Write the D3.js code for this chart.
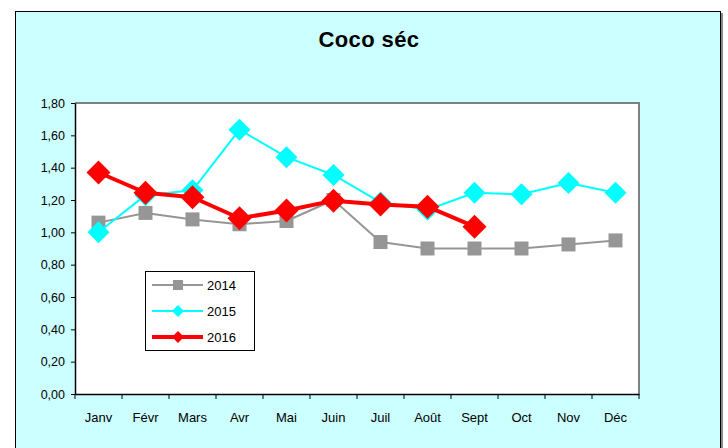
<!DOCTYPE html>
<html><head><meta charset="utf-8">
<script src="https://cdn.jsdelivr.net/npm/d3@7/dist/d3.min.js"></script>
<style>body{margin:0;background:#fff;}svg{display:block;font-family:"Liberation Sans",Arial,sans-serif;}</style>
</head><body><svg id="c" width="728" height="448"></svg>
<script>
const months = ["Janv","Févr","Mars","Avr","Mai","Juin","Juil","Août","Sept","Oct","Nov","Déc"];
const s2014 = [1.06,1.12,1.08,1.05,1.07,1.20,0.94,0.90,0.90,0.90,0.925,0.95];
const s2015 = [1.00,1.23,1.26,1.635,1.465,1.355,1.185,1.14,1.245,1.235,1.305,1.245];
const s2016 = [1.37,1.245,1.217,1.087,1.135,1.196,1.172,1.159,1.035];
const yTicks = [0,0.2,0.4,0.6,0.8,1.0,1.2,1.4,1.6,1.8];
const title = "Coco séc";

const svg = d3.select("#c");
// chart area
svg.append("rect").attr("x",17).attr("y",13).attr("width",706).attr("height",450).attr("fill","#888");
svg.append("rect").attr("x",15.5).attr("y",11.5).attr("width",705).attr("height",450)
  .attr("fill","#CCFFFF").attr("stroke","#000").attr("stroke-width",1);

const L=75, R=639, T=103, B=394;
const x = d3.scaleBand().domain(months).range([L,R]);
const y = d3.scaleLinear().domain([0,1.8]).range([B,T]);

svg.append("rect").attr("x",L).attr("y",T).attr("width",R-L).attr("height",B-T).attr("fill","#fff");
// gray top/right border
svg.append("path").attr("d",`M${L},${T}H${R}V${B}`).attr("fill","none").attr("stroke","#808080").attr("stroke-width",2);

svg.append("text").attr("x",369).attr("y",47).attr("text-anchor","middle")
  .attr("font-size",22).attr("font-weight","bold").attr("letter-spacing",0.4).text(title);

// y axis
const yAxis = d3.axisLeft(y).tickValues(yTicks).tickSize(4).tickSizeOuter(0)
  .tickFormat(d=>d3.format(".2f")(d).replace(".",","));
const gy = svg.append("g").attr("transform",`translate(${L},0)`).call(yAxis);
gy.select(".domain").attr("stroke","#000").attr("stroke-width",1.5);
gy.selectAll(".tick line").attr("stroke","#000");
gy.selectAll(".tick text").attr("font-size",12.5).attr("font-family","Liberation Sans, Arial, sans-serif").attr("fill","#000").attr("x",-10);

// x axis
const xAxis = d3.axisBottom(x).tickSize(0).tickSizeOuter(0);
const gx = svg.append("g").attr("transform",`translate(0,${B})`).call(xAxis);
gx.select(".domain").attr("stroke","#000").attr("stroke-width",1.5);
gx.selectAll(".tick text").attr("font-size",13).attr("font-family","Liberation Sans, Arial, sans-serif").attr("fill","#000").attr("dy","1.15em").attr("y",13);
// boundary ticks
const bounds = months.map(m=>x(m)).concat([R]);
svg.append("g").selectAll("line").data(bounds).join("line")
  .attr("x1",d=>d).attr("x2",d=>d).attr("y1",B).attr("y2",B+5).attr("stroke","#000").attr("stroke-width",1);

const cx = i => x(months[i]) + x.bandwidth()/2;
const line = d3.line().x((d,i)=>cx(i)).y(d=>y(d));
const diamond = (s) => `M0,${-s}L${s},0L0,${s}L${-s},0Z`;

function series(data, color, width, marker){
  svg.append("path").datum(data).attr("d",line).attr("fill","none").attr("stroke",color).attr("stroke-width",width).attr("stroke-linejoin","round");
  const g = svg.append("g");
  data.forEach((d,i)=>{
    g.append("path").attr("transform",`translate(${cx(i)},${y(d)})`).attr("d",marker).attr("fill",color);
  });
}
series(s2014,"#969696",2,"M-7,-7H7V7H-7Z");
series(s2015,"#00FFFF",2,diamond(11));
series(s2016,"#FF0000",4,diamond(12));

// legend
const lg = svg.append("g");
lg.append("rect").attr("x",145.5).attr("y",271.5).attr("width",109).attr("height",79).attr("fill","#fff").attr("stroke","#000").attr("stroke-width",1);
const leg = [["2014","#969696",2,"M-5,-5H5V5H-5Z",285],["2015","#00FFFF",2,diamond(6),311],["2016","#FF0000",4,diamond(6),337]];
leg.forEach(([lab,col,w,m,yy])=>{
  lg.append("line").attr("x1",152).attr("x2",203).attr("y1",yy).attr("y2",yy).attr("stroke",col).attr("stroke-width",w);
  lg.append("path").attr("transform",`translate(178,${yy})`).attr("d",m).attr("fill",col);
  lg.append("text").attr("x",207).attr("y",yy+5).attr("font-size",13).text(lab);
});
</script></body></html>
